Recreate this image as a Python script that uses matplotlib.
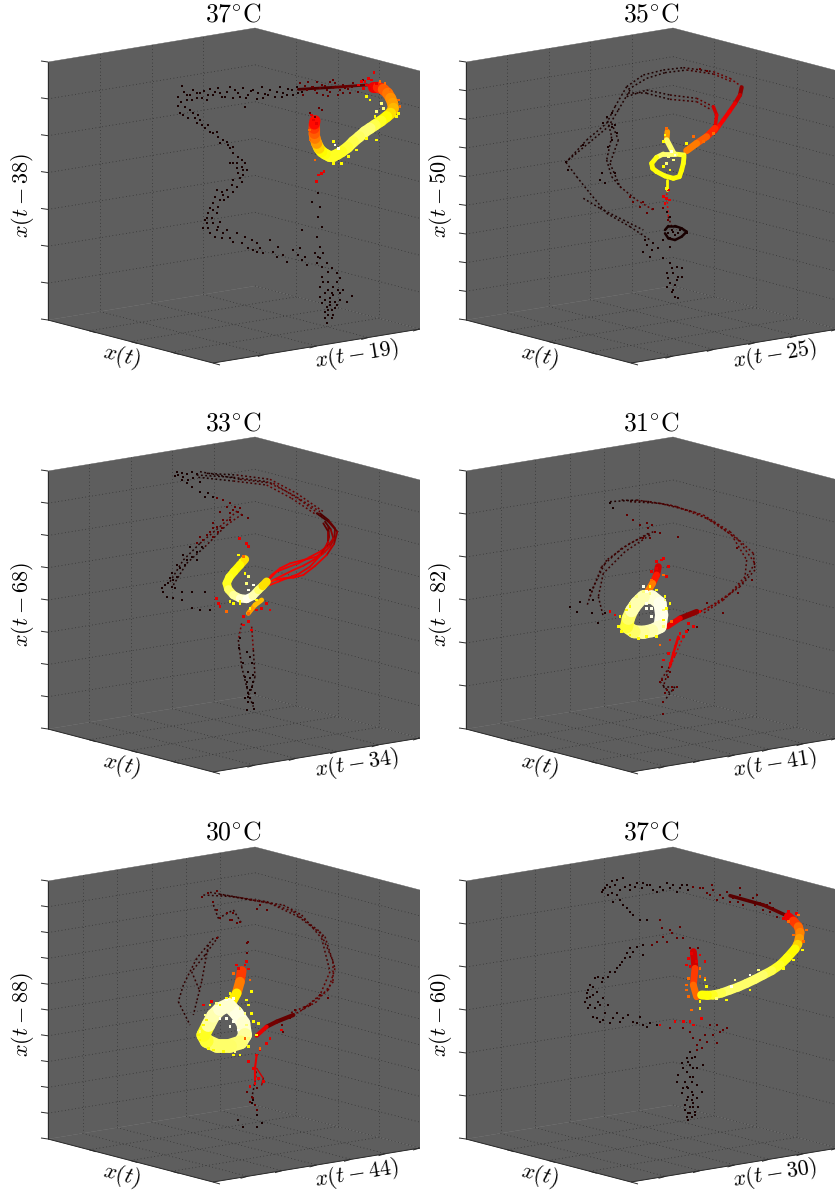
import numpy as np
import matplotlib
matplotlib.use('Agg')
import matplotlib.pyplot as plt
from matplotlib.collections import LineCollection

plt.rcParams['mathtext.fontset'] = 'cm'

titles = ['37', '35', '33', '31', '30', '37']
delay1 = [19, 25, 34, 41, 44, 30]
delay2 = [38, 50, 68, 82, 88, 60]
n_ticks_z = [7, 9, 8, 6, 10, 6]
n_ticks_y = [4, 5, 5, 6, 6, 6]

# hot colormap level of each group of points, and marker area
levels = [0.02, 0.13, 0.33, 0.52, 0.74, 0.87, 0.98]
sizes = [2.8, 2.8, 3.2, 3.5, 3.5, 3.5, 3.5]

# points, in pixels*3 inside each panel crop
p0_black = [(545,258),(535,290),(533,318),(540,340),(552,275),(560,300),(570,285),(580,270),(590,295),(600,280),(612,272),(620,300),(630,268),(640,285),(655,265),(665,290),(680,275),(690,262),(700,295),(715,278),(728,265),(735,320),(745,285),(760,270),(770,297),(785,262),(795,282),(810,270),(825,290),(840,262),(850,280),(865,268),(880,285),(890,262),(905,275),(550,345),(565,355),(580,340),(590,370),(600,360),(615,385),(625,375),(640,400),(655,410),(660,430),(680,425),(690,445),(700,440),(715,470),(725,480),(735,490),(740,510),(730,525),(715,520),(700,490),(690,490),(725,545),(710,560),(700,575),(685,590),(670,585),(660,600),(650,570),(640,610),(625,640),(635,655),(650,640),(660,665),(620,670),(610,685),(630,700),(650,690),(670,700),(690,715),(710,700),(735,710),(755,720),(770,730),(760,750),(780,745),(810,720),(820,755),(835,740),(850,765),(860,785),(880,750),(900,745),(915,770),(920,795),(945,760),(960,775),(955,580),(935,605),(960,620),(955,650),(965,680),(950,710),(960,740),(905,690),(950,790),(965,800),(980,790),(995,805),(1010,820),(1020,835),(965,830),(985,845),(1000,860),(1030,870),(1055,888),(960,860),(975,880),(990,895),(1005,905),(1020,900),(965,910),(980,920),(995,930),(1010,915),(985,945),(995,955),(980,970),(975,935),(1040,905),
 (560,285),(575,300),(590,280),(605,295),(625,285),(645,275),(660,278),(675,292),(705,270),(720,290),(738,295),(752,272),(775,280),(790,295),(805,285),(830,275),(845,290),(860,285),(875,270),(895,280),(542,305),(555,320),(570,330),(585,355),(595,345),(605,375),(630,395),(650,395),(670,420),(685,435),(700,460),(712,490),(725,500),(720,535),(700,540),(730,510),(710,505),(695,555),(680,570),(665,575),(672,600),(655,620),(645,590),(640,630),(630,625),(622,655),(640,670),(655,680),(615,660),(625,685),(645,710),(665,715),(680,690),(700,725),(725,730),(745,745),(770,755),(790,760),(830,770),(895,765),(905,780),(955,770),(970,760),(985,815),(970,845),(1010,845),(1015,870),(1000,885),(985,870),(975,900),(995,880),(1020,880),(960,890),(1005,925),(990,915),(985,930),(1000,945),(990,905),(975,955)]
p0_maroon = [(900,250),(920,270),(935,262),(950,280),(965,255),(980,270),(1000,262),(1015,285),(1030,255),(1045,268),(1060,250),(1075,275),(1000,240),(950,245),(925,245),(958,325),(930,340),(940,260),(970,285),(990,245),(1050,280),(1090,240),(910,285),(985,288),(915,258),(945,270),(960,265),(975,258),(990,275),(1005,250),(1020,270),(1035,265),(1055,262),(1070,258),(1030,280),(945,350),(965,330)]
p0_red = [(1085,245),(1100,255),(1115,240),(1122,218),(1130,250),(940,360),(950,370),(935,345),(955,525),(965,520),(950,545),(972,515),(1090,265),(1105,235),(1095,245),(1110,265),(1075,255)]
p0_orange = [(1140,245),(1170,270),(1195,300),(928,390),(945,480),(1200,320),(1155,250),(930,420)]
p0_yellow = [(1195,340),(1130,420),(1100,290),(1000,490),(1045,470),(1100,415),(1125,350),(1025,490),(1070,450),(1190,350),(1110,300),(1000,425)]
p0_pale = [(1130,335),(1150,325),(1145,310)]
p0_white = [(1005,435),(1015,445)]
p0_bands = [[(895,268,.1),(1000,262,.14),(1100,255,.3),(1125,262,.36)]]
p0_band_w = [2]
p0_fat = [[(1120,262,.34),(1135,262,.42),(1150,268,.5),(1163,280,.54),(1172,295,.58),(1178,310,.6),(1180,325,.64),(1172,340,.7),(1160,350,.74),(1143,363,.78),(1125,375,.82),(1110,385,.86),(1095,395,.86),(1078,410,.84),(1060,425,.82),(1043,442,.8),(1025,455,.78),(1012,463,.78),(1000,468,.78),(987,468,.78),(975,462,.76),(965,455,.74),(957,445,.68),(950,430,.6),(945,415,.55),(942,400,.5),(942,385,.45),(943,372,.38),(945,362,.33)]]
p0_fat_w = [8]
p0_strands = []

p1_black = [(408,487),(415,510),(460,435),(520,370),(530,350),(545,340),(555,375),(545,380),(560,400),(545,420),(535,440),(555,520),(515,520),(510,540),(525,550),(640,755),(660,770),(685,745),(700,720),(720,715),(720,740),(700,775),(720,790),(740,800),(755,805),(710,820),(730,820),(745,830),(720,850),(735,855),(725,875),(745,895),(755,830),(735,890),(715,835),(725,805),(740,840),(730,870),(712,860),(650,735),(670,730),(665,750),(645,720),(770,700),(750,690),(740,680),(720,650),(710,635),(725,690),(715,700),(735,705),(730,695),(745,700)]
p1_maroon = [(600,590),(610,605),(640,605),(630,620),(670,628),(650,640),(715,660),(700,625),(810,208),(830,212)]
p1_red = [(710,595),(705,610),(715,570),(700,590),(718,600)]
p1_orange = [(710,385),(770,430),(790,410),(850,400),(820,425)]
p1_yellow = [(705,405),(700,425),(710,565),(770,430),(700,500),(720,510)]
p1_pale = [(720,440),(710,490),(730,480),(715,470)]
p1_white = [(735,465),(725,455)]
p1_bands = [[(935,262,.2),(930,285,.28),(915,310,.33),(898,335,.35),(880,360,.36),(867,378,.38),(855,395,.4)],[(850,320,.3),(860,345,.33),(855,385,.38)],[(855,385,.42),(830,410,.5),(800,430,.55),(770,452,.7)],[(762,465,.8),(735,462,.86),(700,462,.85),(680,472,.76),(665,490,.74),(668,505,.74),(680,515,.76),(705,528,.76),(730,535,.74),(748,530,.74),(755,510,.74),(760,490,.76),(762,470,.8)],[(712,395,.6),(710,420,.85),(732,462,.95)],[(710,540,.74),(710,570,.6)],[(705,690,.02),(715,678,.02),(735,678,.02),(755,685,.02),(770,695,.02),(755,710,.02),(735,720,.02),(715,715,.02),(705,700,.02)]]
p1_band_w = [3,2.5,5,3.5,4,2,1.8]
p1_fat = []
p1_fat_w = []
p1_strands = [[(590,260,.03),(640,225,.03),(700,210,.03),(760,203,.06),(850,215,.14),(900,235,.16),(935,260,.25)],[(595,268,.03),(650,235,.03),(705,218,.03),(770,210,.08),(850,222,.14),(905,245,.18)],[(590,290,.03),(650,270,.03),(720,285,.06),(800,295,.13),(850,320,.25)],[(595,280,.03),(650,280,.03),(720,298,.08),(800,305,.13),(845,330,.28)],[(408,487,.03),(470,420,.03),(530,370,.03),(555,320,.03),(590,260,.03)],[(415,480,.03),(475,430,.03),(535,380,.03),(565,330,.03),(600,270,.03)],[(530,350,.03),(545,410,.03),(530,480,.03),(545,530,.03),(575,565,.06)],[(545,370,.03),(565,420,.03),(540,490,.03),(570,560,.06),(620,600,.14),(670,630,.14)],[(408,487,.03),(440,530,.03),(480,580,.03),(530,640,.03),(600,680,.03),(660,720,.03)],[(460,595,.03),(510,625,.03),(580,660,.03),(640,690,.03)],[(710,580,.33),(715,650,.1),(725,680,.03)]]

p2_black = [(530,215),(525,228),(545,218),(560,222),(575,215),(590,222),(545,240),(560,250),(575,262),(600,275),(625,280),(615,290),(640,290),(570,440),(550,465),(560,480),(530,495),(515,520),(530,530),(505,550),(515,560),(495,555),(485,565),(500,590),(520,595),(545,600),(575,625),(600,630),(630,630),(615,575),(575,575),(545,575),(740,755),(750,770),(730,790),(755,790),(745,815),(760,825),(735,830),(760,845),(740,860),(750,870),(765,880),(735,895),(745,905),(760,910),(740,930),(762,928),(718,745),(720,715),(745,880),(535,225),(550,232),(565,240),(580,235),(600,245),(520,540),(510,535),(525,565),(490,575),(540,505),(555,495),(575,470),(590,455),(605,440),(590,480),(750,835),(740,845),(755,860),(745,890),(750,895)]
p2_maroon = [(650,295),(670,300),(690,310),(705,320),(715,335),(690,340),(670,360),(650,380),(630,395),(610,420),(590,430),(640,410),(745,355),(700,330),(680,320),(660,335),(640,370),(620,405),(690,360),(665,385),(640,385),(720,325),(725,345),(600,410),(655,395)]
p2_red = [(740,430),(718,415),(745,665),(730,650),(755,690),(730,675),(810,630),(650,595),(660,620),(770,630),(785,625),(800,610),(655,610),(745,440)]
p2_orange = [(680,635),(745,640),(730,470)]
p2_yellow = [(715,465),(720,480),(700,610),(720,610),(690,605),(750,625),(770,600),(745,530),(735,520),(720,605)]
p2_pale = [(740,550),(745,530)]
p2_white = [(745,570),(760,555)]
p2_bands = [[(745,640,.6),(765,615,.65),(785,600,.6)],[(960,340,.1),(985,360,.14),(1005,385,.18),(1003,415,.24),(990,440,.3),(968,462,.33),(940,480,.33),(910,497,.34),(880,510,.35),(850,525,.36),(820,540,.38),(790,560,.5)],[(950,340,.1),(985,365,.14),(1012,395,.2),(1002,432,.26),(980,465,.33),(945,498,.33),(910,525,.34),(880,533,.35),(850,535,.36),(825,540,.4),(800,550,.5)],[(975,365,.12),(992,388,.2),(1000,415,.25),(985,437,.3),(960,455,.33),(928,472,.34),(895,490,.35),(860,503,.35),(830,515,.36),(800,545,.5)],[(985,380,.15),(987,412,.22),(980,440,.3),(965,458,.33),(950,470,.33),(910,480,.34),(870,490,.35),(840,505,.36),(815,525,.37),(785,565,.52)],[(970,370,.13),(985,395,.2),(985,425,.28),(962,465,.33),(930,500,.33),(895,522,.34),(860,535,.35),(835,545,.38),(810,555,.4)]]
p2_band_w = [3.5,1.3,1.3,1.3,1.3,1.3]
p2_fat = [[(735,478,.7),(720,495,.74),(702,515,.76),(688,532,.78),(680,550,.78),(685,568,.84),(700,585,.9),(720,595,.95),(740,597,.98),(758,588,.92),(775,570,.85),(788,558,.7),(800,545,.55)]]
p2_fat_w = [6]
p2_strands = [[(590,225,.03),(700,232,.06),(800,245,.13),(880,285,.13),(960,335,.1)],[(595,232,.03),(700,243,.08),(800,255,.13),(875,295,.13),(950,345,.1)],[(620,220,.03),(710,225,.08),(810,238,.13),(890,280,.13),(970,335,.1)],[(600,215,.03),(720,238,.08),(820,250,.13),(900,300,.13),(975,355,.12)],[(725,670,.16),(715,720,.05),(725,800,.03),(745,880,.03),(760,920,.03)],[(755,680,.16),(760,750,.05),(765,830,.03),(750,880,.03)],[(510,545,.03),(550,480,.03),(600,430,.08),(660,380,.13),(715,330,.13)],[(520,555,.03),(560,490,.03),(615,440,.08),(680,375,.13),(730,340,.13)]]

p3_black = [(540,310),(550,325),(420,620),(450,605),(440,635),(480,570),(490,600),(485,640),(505,670),(525,640)]
p3_maroon = [(745,410),(660,415),(640,415),(590,345),(610,360),(630,375),(655,385),(675,395),(690,400),(665,375),(650,370),(920,445),(965,540),(925,580),(880,640),(830,610),(775,690),(800,680),(695,800),(720,815),(740,860),(710,870),(700,905),(698,942),(705,880),(690,845),(730,870),(695,840),(715,830),(725,860)]
p3_red = [(810,635),(770,695),(790,680),(680,485),(695,480),(680,505),(665,515),(710,530),(700,475),(720,720),(735,765),(720,790),(700,780),(750,700),(540,635),(555,645),(775,670),(735,740),(715,760),(715,500),(730,760),(745,715),(760,710)]
p3_orange = [(725,665),(690,735),(700,525),(665,540)]
p3_yellow = [(720,610),(705,590),(570,650),(680,710),(600,705),(650,710),(565,680),(590,630),(600,620),(700,660),(625,715),(575,695),(710,625),(680,570),(660,560)]
p3_pale = [(620,590),(660,580),(700,630),(640,575),(600,610),(585,650),(705,600),(700,680)]
p3_white = [(640,560),(650,575),(650,625),(665,625),(680,660),(665,650),(650,610)]
p3_bands = [[(800,635,.2),(750,655,.33),(712,680,.6)],[(685,500,.3),(680,525,.4),(668,550,.55),(650,580,.8)],[(745,710,.33),(730,760,.33),(720,800,.28)]]
p3_band_w = [4,5,1.8]
p3_fat = [[(640,590,.92),(665,590,.96),(690,610,.98),(695,645,.98),(690,680,.95),(665,692,.92),(640,697,.9),(612,695,.85),(590,680,.8),(595,655,.85),(605,632,.92),(620,610,.92),(640,590,.92)]]
p3_fat_w = [9.5]
p3_strands = [[(540,305,.03),(620,300,.09),(720,315,.13),(820,345,.13),(900,395,.13),(970,460,.1),(975,510,.1),(930,560,.13),(860,610,.18),(800,640,.25)],[(575,300,.05),(660,305,.09),(740,320,.13),(830,355,.13),(905,405,.13),(950,480,.1),(945,530,.13),(900,580,.16),(840,620,.2),(780,650,.3)],[(600,305,.06),(690,310,.09),(790,335,.13),(850,365,.13),(925,420,.13),(975,490,.1),(940,545,.13),(880,600,.16),(820,640,.2)],[(670,395,.08),(600,430,.08),(530,480,.06),(490,560,.05),(470,620,.03)],[(660,405,.08),(585,455,.07),(520,520,.06),(505,590,.05),(520,650,.03)],[(655,400,.08),(575,445,.07),(515,500,.06),(480,590,.04)],[(745,715,.3),(715,810,.1),(700,860,.05),(735,860,.05),(705,900,.03)],[(760,710,.3),(725,790,.12),(690,845,.05),(720,880,.04)]]

p4_black = [(728,965),(715,945),(770,965),(785,955),(760,885),(755,895),(772,930)]
p4_maroon = [(650,315),(700,325),(720,350),(695,345),(660,340),(650,400),(745,410),(740,445),(755,875),(770,915),(750,890),(770,850),(740,860),(850,680),(845,660),(870,640),(960,570),(985,580),(930,600),(885,615),(915,605),(760,880),(765,900),(690,345),(710,355),(680,325),(640,290),(605,275),(625,265),(650,258),(740,415),(780,300),(800,315),(770,312)]
p4_red = [(740,470),(715,490),(745,492),(845,675),(770,750),(760,790),(775,820),(790,830),(765,835),(750,845),(710,480),(735,480),(800,715),(810,700),(745,770),(780,735),(610,600),(635,590)]
p4_orange = [(750,525),(700,505),(735,700),(780,730)]
p4_yellow = [(755,560),(745,600),(740,585),(630,600),(620,645),(600,705),(720,750),(700,750),(760,650),(775,655),(640,735),(690,565),(680,580),(770,690),(610,660),(595,690),(755,625),(745,725),(670,740),(625,730),(660,600)]
p4_pale = [(650,595),(735,625),(720,610),(740,660),(745,700),(600,680),(615,630),(705,740)]
p4_white = [(680,585),(700,580),(680,640),(700,650),(690,665),(715,675),(660,640)]
p4_bands = [[(880,630,.14),(830,650,.16),(800,665,.33),(770,692,.45)],[(725,498,.45),(720,530,.55),(710,565,.72),(692,598,.88)],[(770,750,.33),(765,790,.33),(765,825,.3)],[(770,790,.3),(790,820,.2),(785,840,.15)]]
p4_band_w = [3,7,1.5,1]
p4_fat = [[(685,600,.95),(710,625,.97),(730,655,.95),(735,690,.9),(722,712,.86),(690,722,.85),(650,722,.85),(620,708,.8),(610,690,.78),(625,660,.9),(640,632,.92),(660,612,.95),(685,600,.95)]]
p4_fat_w = [10]
p4_strands = [[(610,270,.06),(700,275,.09),(800,290,.1),(880,320,.1),(960,380,.1),(1000,470,.13),(1000,530,.13),(950,590,.14),(880,630,.14)],[(630,262,.06),(720,278,.09),(810,295,.1),(895,335,.1),(975,395,.1),(1005,490,.13),(985,555,.13),(925,600,.14),(870,625,.14)],[(660,268,.06),(750,285,.09),(850,300,.1),(905,330,.1),(965,400,.1),(990,500,.13),(960,570,.13),(900,620,.14)],[(640,300,.06),(655,340,.06),(700,315,.06),(725,355,.06)],[(640,400,.06),(590,460,.06),(550,540,.05),(535,590,.05),(570,660,.05)],[(625,420,.06),(605,530,.06),(590,590,.05),(580,630,.05)],[(655,395,.06),(615,450,.06),(575,500,.06),(600,560,.06)],[(755,880,.05),(765,830,.14),(770,790,.3)]]

p5_black = [(520,255),(530,240),(545,228),(560,225),(580,218),(600,240),(620,235),(635,250),(650,240),(670,255),(690,245),(710,235),(730,240),(750,250),(770,240),(535,270),(550,290),(570,285),(590,310),(610,330),(630,345),(650,345),(640,420),(620,425),(600,430),(590,445),(575,470),(560,490),(640,450),(540,500),(520,520),(495,520),(480,540),(470,565),(465,590),(480,575),(500,560),(520,580),(535,600),(475,610),(490,635),(510,650),(540,655),(560,625),(580,640),(610,650),(630,635),(650,665),(680,660),(780,740),(795,755),(770,760),(755,775),(780,780),(800,790),(745,810),(770,800),(790,815),(765,830),(800,840),(775,850),(790,870),(755,865),(770,885),(800,880),(780,905),(765,915),(795,920),(785,935),(775,945),(805,905),
 (515,262),(525,250),(540,245),(555,240),(570,255),(585,245),(600,255),(615,245),(640,235),(660,240),(680,262),(700,255),(720,250),(740,260),(755,240),(775,255),(545,265),(560,270),(580,300),(600,320),(600,455),(585,460),(570,480),(555,500),(610,440),(535,515),(515,530),(505,515),(490,545),(475,555),(490,570),(505,590),(470,580),(480,600),(495,610),(510,600),(525,625),(500,640),(520,645),(550,640),(570,650),(595,630),(620,655),(640,660),(660,655),(785,760),(790,790),(775,770),(760,790),(785,830),(780,815),(770,845),(760,850),(785,860),(775,875),(785,885),(765,900),(790,895),(775,925),(790,905),(780,925),(770,935),(795,930),(740,830),(815,860),(820,780)]
p5_maroon = [(690,345),(720,375),(750,365),(740,400),(710,410),(680,410),(665,420),(790,245),(810,250),(830,265),(850,255),(870,270),(890,262),(910,280),(930,270),(950,285),(970,280),(990,295),(1010,300),(1030,310),(1050,320),(1000,315),(860,660),(880,675),(850,690),(830,710),(860,715),(810,705),(800,720),(720,670),(780,430),(805,430),(700,395),(725,385),(760,400),(695,370),(840,270),(860,285),(880,280),(900,290),(925,290),(940,300),(975,300),(1020,320),(1040,335),(820,250),(845,240),(930,250),(980,270),(1020,295),(870,680),(890,670),(840,660),(825,690),(790,700),(780,680),(815,730),(800,735),(760,670)]
p5_red = [(735,650),(760,650),(790,660),(815,640),(775,460),(800,470),(780,485),(780,650),(690,660),(1100,325),(810,450),(825,470),(770,480),(1060,340),(1075,320),(785,445)]
p5_orange = [(1130,375),(1105,330),(810,490),(825,520),(775,575),(770,540),(785,615),(1120,410),(1075,350),(1090,390),(775,520),(810,515),(770,555)]
p5_yellow = [(825,525),(810,610),(1090,465),(1118,435),(830,545),(810,590),(960,555),(1060,490),(890,585)]
p5_pale = [(915,525),(985,495),(860,580)]
p5_white = [(960,510),(905,545)]
p5_bands = [[(900,272,.12),(1000,300,.14),(1070,332,.28)],[(790,440,.3),(795,490,.45),(790,540,.52),(800,575,.6)]]
p5_band_w = [2.5,5]
p5_fat = [[(1075,335,.34),(1090,348,.45),(1105,365,.52),(1110,382,.56),(1108,400,.6),(1103,418,.68),(1095,432,.74),(1072,458,.76),(1050,480,.78),(1025,497,.82),(1000,510,.85),(975,523,.85),(950,535,.85),(925,546,.85),(900,555,.85),(875,564,.82),(850,570,.78),(832,571,.75),(815,570,.72)]]
p5_fat_w = [6.5]
p5_strands = []

points = [
    [p0_black, p0_maroon, p0_red, p0_orange, p0_yellow, p0_pale, p0_white],
    [p1_black, p1_maroon, p1_red, p1_orange, p1_yellow, p1_pale, p1_white],
    [p2_black, p2_maroon, p2_red, p2_orange, p2_yellow, p2_pale, p2_white],
    [p3_black, p3_maroon, p3_red, p3_orange, p3_yellow, p3_pale, p3_white],
    [p4_black, p4_maroon, p4_red, p4_orange, p4_yellow, p4_pale, p4_white],
    [p5_black, p5_maroon, p5_red, p5_orange, p5_yellow, p5_pale, p5_white],
]
bands = [p0_bands + p0_fat, p1_bands + p1_fat, p2_bands + p2_fat, p3_bands + p3_fat, p4_bands + p4_fat, p5_bands + p5_fat]
band_w = [p0_band_w + p0_fat_w, p1_band_w + p1_fat_w, p2_band_w + p2_fat_w, p3_band_w + p3_fat_w, p4_band_w + p4_fat_w, p5_band_w + p5_fat_w]
strands = [p0_strands, p1_strands, p2_strands, p3_strands, p4_strands, p5_strands]

W, H = 835, 1194
row_y = [0, 409, 819]
col_x = [0, 418]
crop_x = [0, 12]
crop_y = [0, -9, -14]

# cube corners, pixels inside a panel
left_top = np.array([48, 62.0])
left_bot = np.array([48, 320.0])
back_top = np.array([255, 28.0])
back_bot = np.array([255, 286.0])
front = np.array([213, 363.0])
right_bot = back_bot + front - left_bot
right_top = back_top + front - left_bot
pane = '#5e5e5e'
grid = dict(color='#2c2c2c', lw=0.55, ls=(0, (1, 3.5)), zorder=2)
edge = dict(color='#2a2a2a', lw=0.7, zorder=3)


def seg(ax, a, b, **kw):
    ax.plot([a[0], b[0]], [a[1], b[1]], solid_capstyle='butt', **kw)


def draw_path(ax, path, col, row, lw, dotted=False):
    p = np.array(path, dtype=float)
    xy = np.column_stack([p[:, 0] / 3 + crop_x[col], p[:, 1] / 3 + crop_y[row]])
    segs = np.stack([xy[:-1], xy[1:]], axis=1)
    lc = LineCollection(segs, cmap='hot', norm=plt.Normalize(0, 1), linewidths=lw,
                        capstyle='butt' if dotted else 'round', zorder=4,
                        linestyles=(0, (1.2, 1.6)) if dotted else 'solid')
    lc.set_array(p[:-1, 2])
    ax.add_collection(lc)


fig = plt.figure(figsize=(W / 100, H / 100), dpi=100)
for i in range(6):
    row, col = i // 2, i % 2
    w = 420 if col == 0 else W - col_x[1]
    h = 375
    ax = fig.add_axes([col_x[col] / W, 1 - (row_y[row] + h) / H, w / W, h / H])
    ax.set_xlim(0, w)
    ax.set_ylim(h, 0)
    ax.set_axis_off()

    for quad in ([left_top, back_top, back_bot, left_bot],
                 [back_top, right_top, right_bot, back_bot],
                 [left_bot, back_bot, right_bot, front]):
        q = np.array(quad)
        ax.fill(q[:, 0], q[:, 1], color=pane, lw=0.3, zorder=1)

    # height ticks and their lines over both back panes
    nz = n_ticks_z[i]
    for t in np.linspace(0, 1, nz + 1):
        a = left_top + t * (left_bot - left_top)
        b = back_top + t * (back_bot - back_top)
        c = right_top + t * (right_bot - right_top)
        if 0 < t < 1:
            seg(ax, a, b, **grid)
            seg(ax, b, c, **grid)
        seg(ax, a + [-7, -1], a, **edge)
    # depth axis
    ny = n_ticks_y[i]
    for t in np.linspace(0, 1, ny + 1)[1:]:
        a = left_top + t * (back_top - left_top)
        b = left_bot + t * (back_bot - left_bot)
        c = front + t * (right_bot - front)
        if t < 1:
            seg(ax, a, b, **grid)
        seg(ax, b, c, **grid)
        seg(ax, c, c + [-7, 2], **edge)
    # other floor axis
    for t in np.linspace(0, 1, 5)[1:]:
        a = left_bot + t * (front - left_bot)
        b = back_bot + t * (right_bot - back_bot)
        c = back_top + t * (right_top - back_top)
        if t < 1:
            seg(ax, a, b, **grid)
            seg(ax, b, c, **grid)
        seg(ax, a, a + [7, 2], **edge)
    seg(ax, left_top, left_bot, **edge)
    seg(ax, left_bot, front, **edge)
    seg(ax, front, right_bot, **edge)

    for path in strands[i]:
        draw_path(ax, path, col, row, 1.1, dotted=True)
    for path, lw in zip(bands[i], band_w[i]):
        draw_path(ax, path, col, row, lw)

    for group, level, size in zip(points[i], levels, sizes):
        xy = np.array(group, dtype=float)
        ax.scatter(xy[:, 0] / 3 + crop_x[col], xy[:, 1] / 3 + crop_y[row],
                   c=[level] * len(xy), cmap='hot', vmin=0, vmax=1,
                   s=size, marker='s', linewidths=0, zorder=5)

    ax.text(233, 14, r'$%s^{\circ}\mathrm{C}$' % titles[i], ha='center', va='center',
            fontsize=18.5, clip_on=False)
    ax.text(122, 356, r'$x(t)$', ha='center', va='center', fontsize=16, rotation=-14, clip_on=False)
    ax.text(357, 355, r'$x(t-%d)$' % delay1[i], ha='center', va='center', fontsize=16, rotation=9, clip_on=False)
    ax.text(23, 195, r'$x(t-%d)$' % delay2[i], ha='center', va='center', fontsize=16, rotation=90, clip_on=False)

fig.savefig('out.png', dpi=100)
